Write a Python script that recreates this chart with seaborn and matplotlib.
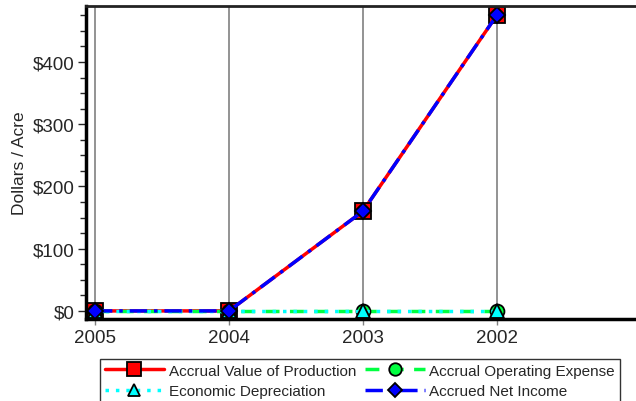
import numpy as np
import pandas as pd
import matplotlib
matplotlib.use("Agg")
import matplotlib.pyplot as plt
import seaborn as sns
from matplotlib.ticker import MultipleLocator, FuncFormatter

years = ["2005", "2004", "2003", "2002"]
value_of_production = [0, 0, 160, 475]
operating_expense = [0, 0, 0, 0]
depreciation = [0, 0, 0, 0]
net_income = [0, 0, 160, 475]

sns.set_style("white")
plt.rcParams["font.family"] = ["Liberation Sans", "DejaVu Sans"]

fig = plt.figure(figsize=(6.36, 4.02), dpi=100)
ax = fig.add_axes([86 / 636, 82 / 402, 550 / 636, 313 / 402])

pos = np.arange(len(years))
series = [
    ("Accrual Value of Production", value_of_production, "red", "-", "s", 11, "red"),
    ("Accrual Operating Expense", operating_expense, "#00ff40", (0, (4, 3)), "o", 10, "#00ff40"),
    ("Economic Depreciation", depreciation, "cyan", (0, (1, 2)), "^", 10, "cyan"),
    ("Accrued Net Income", net_income, "blue", (0, (5, 2, 1, 2)), "D", 8, "blue"),
]

for name, vals, col, ls, mk, ms, fc in series:
    df = pd.DataFrame({"x": pos, "y": vals})
    sns.lineplot(data=df, x="x", y="y", ax=ax, color=col, linestyle=ls, linewidth=2.5,
                 marker=mk, markersize=ms, markerfacecolor=fc, markeredgecolor="black",
                 markeredgewidth=1.3, label=name, legend=False)

ax.set_xlim(-0.067, 4.04)
ax.set_ylim(-13, 490)
ax.set_xticks(pos)
ax.set_xticklabels(years, fontsize=13.5)
ax.yaxis.set_major_locator(MultipleLocator(100))
ax.yaxis.set_minor_locator(MultipleLocator(25))
ax.yaxis.set_major_formatter(FuncFormatter(lambda v, p: f"${v:.0f}"))
ax.tick_params(axis="y", which="major", labelsize=13.5, length=6, width=1, direction="out", left=True, pad=2)
ax.tick_params(axis="y", which="minor", length=4, width=1, direction="out", left=True)
ax.tick_params(axis="x", length=4, width=1, color="gray", direction="out", bottom=True, pad=3)
ax.set_xlabel("")
ax.set_ylabel("Dollars / Acre", fontsize=12.5, labelpad=4)
ax.grid(axis="x", color="gray", linewidth=1.2)
ax.grid(axis="y", visible=False)

for side in ["left", "bottom"]:
    ax.spines[side].set_linewidth(2.5)
    ax.spines[side].set_color("black")
ax.spines["top"].set_linewidth(2)
ax.spines["top"].set_color("#222222")
ax.spines["right"].set_visible(False)

handles, labels = ax.get_legend_handles_labels()
order = [0, 2, 1, 3]
leg = fig.legend([handles[i] for i in order], [labels[i] for i in order],
                 loc="upper left", bbox_to_anchor=(100 / 636, 1 - 360 / 402),
                 ncol=2, fontsize=11, frameon=True, fancybox=False, edgecolor="black",
                 borderpad=0.3, handlelength=3.9, columnspacing=0.6, labelspacing=0.45,
                 handletextpad=0.3, borderaxespad=0, markerscale=0.9)
leg.get_frame().set_linewidth(1)

fig.savefig("out.png", dpi=100)
